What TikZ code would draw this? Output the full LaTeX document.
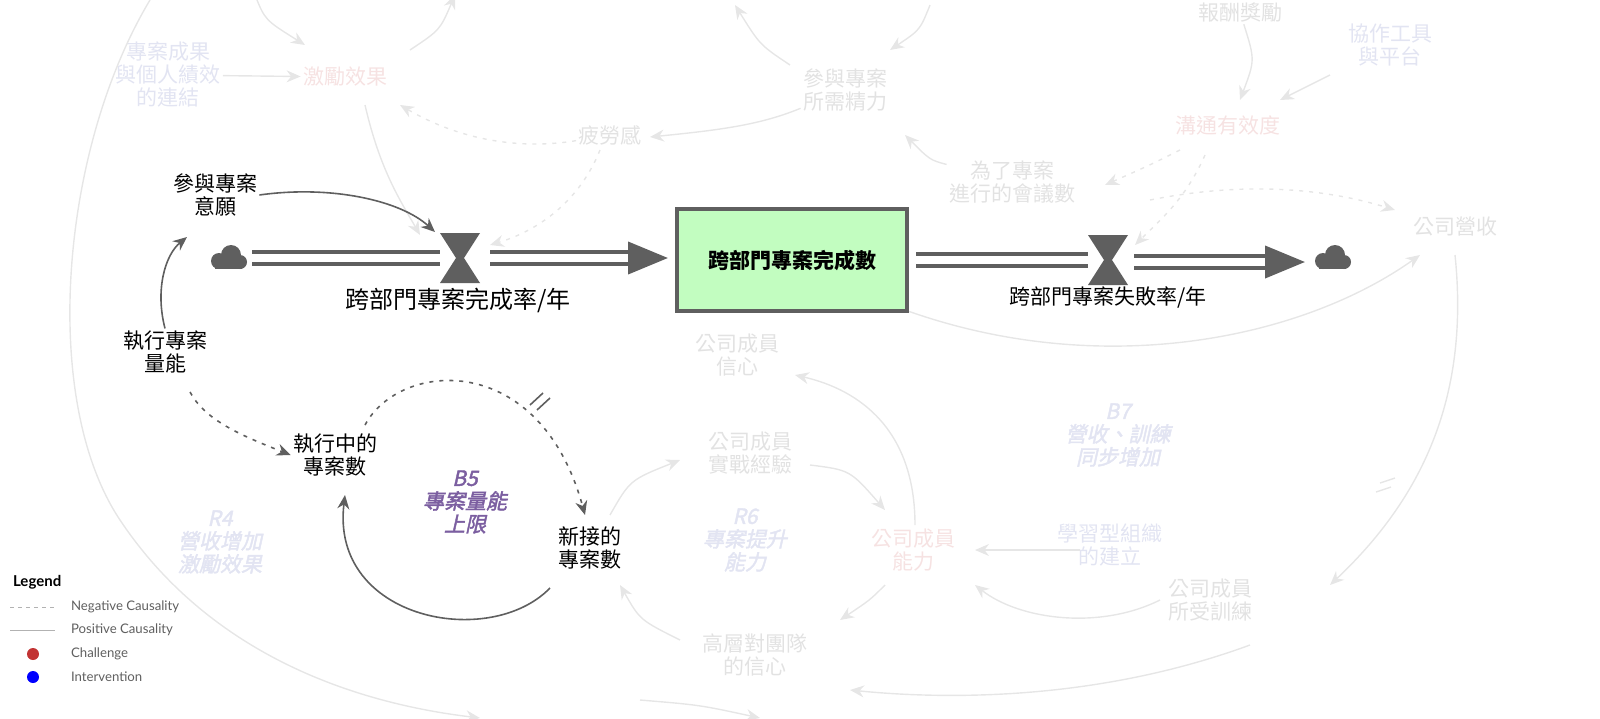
\documentclass[tikz,border=0pt]{standalone}
\usepackage{fontspec}
\setmainfont{Lato}
\newfontfamily\cjk{Noto Sans CJK TC}
\newfontfamily\cjki[FakeSlant=0.22,FakeBold=2]{Noto Sans CJK TC}
\usetikzlibrary{arrows.meta}
\definecolor{dk}{HTML}{5F5F5F}
\definecolor{fg}{HTML}{E6E6E6}
\definecolor{fpink}{HTML}{F6E2E2}
\definecolor{fblue}{HTML}{E2E4F2}
\definecolor{fgray}{HTML}{E2E2E2}
\definecolor{stockg}{HTML}{C2FDC0}
\definecolor{loopc}{HTML}{7B5EA0}
\tikzset{
 lab/.style={font=\cjk\fontsize{10.5}{11.5}\selectfont,align=center,text=black,inner sep=1pt},
 flab/.style={font=\cjk\fontsize{10.5}{11.5}\selectfont,align=center,inner sep=1pt},
 loopl/.style={font=\cjki\fontsize{10.5}{11.5}\selectfont,align=center,inner sep=1pt},
 posc/.style={draw=dk,line width=0.8pt,-{Stealth[length=7pt,width=6pt]}},
 negc/.style={posc,dash pattern=on 2pt off 3pt},
 fposc/.style={draw=fg,line width=0.7pt,-{Stealth[length=7pt,width=6pt]}},
 fnegc/.style={fposc,dash pattern=on 2pt off 3pt},
 pipe/.style={draw=dk,double=white,double distance=4pt,line width=2pt},
 pipea/.style={pipe,-{Triangle[length=20pt,width=16pt,fill=dk]}},
}
\newcommand{\valveat}[2]{\fill[dk] (#1-20,#2-25) -- (#1+20,#2-25) -- (#1+4,#2) -- (#1+20,#2+25) -- (#1-20,#2+25) -- (#1-4,#2) -- cycle;}
\newcommand{\cloudat}[2]{\fill[dk] (#1-9,#2+3) circle (8);\fill[dk] (#1+3,#2-3) circle (10);\fill[dk] (#1+12,#2+4) circle (7);\fill[dk] (#1-13,#2+3) rectangle (#1+14,#2+11);}
\begin{document}
\begin{tikzpicture}[x=0.5pt,y=-0.5pt]
\useasboundingbox (0,0) rectangle (1600,718);
% ---------- faded background ----------
\begin{scope}
\node[flab,text=fblue] (pr) at (168,75) {專案成果\\與個人績效\\的連結};
\node[flab,text=fpink] (ji) at (345,77) {激勵效果};
\node[flab,text=fgray] (jl) at (845,90) {參與專案\\所需精力};
\node[flab,text=fgray] (pl) at (610,135) {疲勞感};
\node[flab,text=fpink] (gt) at (1228,126) {溝通有效度};
\node[flab,text=fblue] (xz) at (1390,45) {協作工具\\與平台};
\node[flab,text=fgray] (hy) at (1012,182) {為了專案\\進行的會議數};
\node[flab,text=fgray] (ys) at (1455,227) {公司營收};
\node[flab,text=fgray] (xx) at (737,355) {公司成員\\信心};
\node[flab,text=fgray] (sz) at (750,453) {公司成員\\實戰經驗};
\node[flab,text=fpink] (nl) at (913,550) {公司成員\\能力};
\node[flab,text=fblue] (xs) at (1110,545) {學習型組織\\的建立};
\node[flab,text=fgray] (sx) at (1210,600) {公司成員\\所受訓練};
\node[flab,text=fgray] (gc) at (755,655) {高層對團隊\\的信心};
\node[flab,text=fgray,anchor=north] (tp) at (1240,0) {報酬獎勵};
\node[loopl,text=fblue] (r4) at (220,542) {R4\\營收增加\\激勵效果};
\node[loopl,text=fblue] (r6) at (745,540) {R6\\專案提升\\能力};
\node[loopl,text=fblue] (b7) at (1118,435) {B7\\營收、訓練\\同步增加};
\draw[fposc] (pr) -- (ji);
\draw[fposc] (255,-5) .. controls (265,20) .. (305,45);
\draw[fposc] (410,50) .. controls (440,30) .. (455,-5);
\draw[fposc] (365,105) .. controls (380,170) and (400,200) .. (420,235);
\draw[fnegc] (pl) .. controls (520,150) and (460,140) .. (400,105);
\draw[fposc] (jl) .. controls (760,125) and (720,130) .. (650,137);
\draw[fposc] (790,65) .. controls (760,45) .. (735,5);
\draw[fposc] (930,5) .. controls (920,30) .. (890,50);
\draw[fposc] (hy) .. controls (930,160) .. (905,135);
\draw[fnegc] (600,150) .. controls (580,200) and (540,230) .. (490,245);
\draw[fposc] (tp) .. controls (1255,60) .. (1240,100);
\draw[fposc] (1330,75) -- (1280,100);
\draw[fnegc] (1180,150) .. controls (1150,165) .. (1105,185);
\draw[fnegc] (1205,155) .. controls (1185,200) and (1160,220) .. (1135,245);
\draw[fnegc] (1150,200) .. controls (1250,180) and (1330,190) .. (1395,210);
\draw[fposc] (905,310) .. controls (1100,380) and (1300,340) .. (1420,255);
\draw[fposc] (1455,255) .. controls (1470,400) and (1420,500) .. (1330,585);
\draw[fposc] (1080,550) -- (975,550);
\draw[fposc] (915,525) .. controls (915,430) and (860,390) .. (795,375);
\draw[fposc] (810,465) .. controls (850,470) .. (885,510);
\draw[fposc] (885,585) .. controls (870,600) .. (840,620);
\draw[fposc] (680,640) .. controls (640,620) .. (620,585);
\draw[fposc] (610,515) .. controls (630,480) .. (680,460);
\draw[fposc] (1160,600) .. controls (1100,630) and (1020,620) .. (975,585);
\draw[fposc] (1250,645) .. controls (1100,700) and (950,700) .. (850,690);
\draw[fposc] (150,0) .. controls (60,150) and (40,400) .. (120,520) .. controls (200,640) and (330,700) .. (480,718);
\draw[fg,line width=0.7pt] (1380,483) -- (1395,478) (1376,492) -- (1391,487);
\draw[fposc] (640,700) .. controls (700,705) .. (760,718);
\end{scope}
% ---------- main structure ----------
\cloudat{228}{258}
\draw[pipe] (252,258) -- (440,258);
\valveat{460}{258}
\draw[pipea] (490,258) -- (668,258);
\node[draw=dk,line width=2pt,fill=stockg,minimum width=115pt,minimum height=51pt,font=\cjk\bfseries\fontsize{10.5}{12}\selectfont] (st) at (792,260) {跨部門專案完成數};
\draw[pipe] (916,260) -- (1088,260);
\valveat{1108}{260}
\draw[pipea] (1134,262) -- (1305,262);
\cloudat{1332}{258}
\node[lab,font=\cjk\fontsize{12}{13}\selectfont] (rin) at (458,300) {跨部門專案完成率/年};
\node[lab] (rout) at (1108,297) {跨部門專案失敗率/年};
\coordinate (vin) at (435,232);
\node[lab] (wy) at (215,195) {參與專案\\意願};
\node[lab] (cap) at (165,352) {執行專案\\量能};
\node[lab] (ing) at (335,455) {執行中的\\專案數};
\node[lab] (new) at (590,548) {新接的\\專案數};
\node[loopl,text=loopc] (b5) at (465,502) {B5\\專案量能\\上限};
\draw[posc] (wy.east) .. controls (330,185) and (400,200) .. (vin);
\draw[posc] (cap.north) .. controls (155,290) and (165,255) .. (187,237);
\draw[negc] (190,392) .. controls (205,420) and (240,435) .. (ing.west);
\draw[negc] (365,425) .. controls (400,360) and (540,350) .. (585,515);
\draw[dk,line width=0.8pt] (530,405) -- (543,393) (537,410) -- (550,398);
\draw[posc] (550,588) .. controls (490,650) and (330,620) .. (345,495);
% ---------- legend ----------
\node[font=\bfseries\fontsize{7.5}{8}\selectfont,anchor=west] (lg) at (6,582) {Legend};
\draw[gray!60,dash pattern=on 2pt off 2pt] (10,607) -- (55,607);
\node[font=\fontsize{6.6}{7}\selectfont,anchor=west,text=dk] (l1) at (64,607) {Negative Causality};
\draw[gray!60] (10,630) -- (55,630);
\node[font=\fontsize{6.6}{7}\selectfont,anchor=west,text=dk] (l2) at (64,630) {Positive Causality};
\fill[red!70!black!80] (33,654) circle (6);
\node[font=\fontsize{6.6}{7}\selectfont,anchor=west,text=dk] (l3) at (64,654) {Challenge};
\fill[blue] (33,677) circle (6);
\node[font=\fontsize{6.6}{7}\selectfont,anchor=west,text=dk] (l4) at (64,677) {Intervention};
\end{tikzpicture}
\end{document}
